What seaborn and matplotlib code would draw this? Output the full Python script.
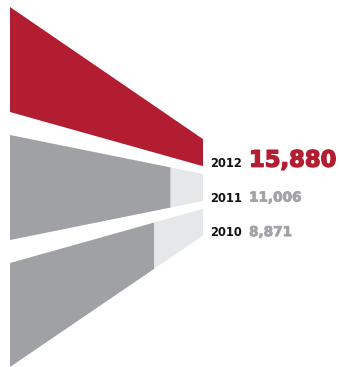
import numpy as np
import matplotlib
matplotlib.use("Agg")
import matplotlib.pyplot as plt
import matplotlib.patheffects as pe
import seaborn as sns

# Data
years = ["2012", "2011", "2010"]
values = [15880, 11006, 8871]
value_labels = ["15,880", "11,006", "8,871"]

sns.set_theme(style="white")
plt.rcParams["font.family"] = ["DejaVu Sans"]

RED = "#B31D32"
DARK = "#A0A1A5"
LIGHT = "#E6E7E9"
BAR_COLORS = [RED, DARK, DARK]
VALUE_COLORS = [RED, "#A3A4A8", "#A3A4A8"]
VALUE_SIZES = [16.3, 9.8, 9.8]
VALUE_STROKES = [1.0, 0.6, 0.6]

fig = plt.figure(figsize=(3.4, 3.67), dpi=100)
ax = fig.add_axes([0, 0, 1, 1])
ax.set_xlim(0, 340)
ax.set_ylim(367, 0)
ax.axis("off")

# Perspective layout: bands recede from the near edge toward a vanishing point
X_NEAR, X_FAR, X_VANISH = 10, 203, 270
# (vanishing y, top offset at near edge, bottom offset at near edge)
bands = [(185, -178, -73), (187.5, -52.5, 52.5), (190, 73, 177)]
vmax = max(values)


def depth_x(v):
    return X_NEAR + (X_FAR - X_NEAR) * np.sqrt(v / vmax)


def edge_y(vy, off, x):
    return vy + off * (X_VANISH - x) / (X_VANISH - X_NEAR)


def slab(x0, x1, vy, top, bot, color):
    xs = [x0, x1, x1, x0]
    ys = [edge_y(vy, top, x0), edge_y(vy, top, x1),
          edge_y(vy, bot, x1), edge_y(vy, bot, x0)]
    ax.fill(xs, ys, color=color, lw=0)


x_full = depth_x(vmax)
for i, (vy, top, bot) in enumerate(bands):
    xv = depth_x(values[i])
    slab(X_NEAR, xv, vy, top, bot, BAR_COLORS[i])
    if xv < x_full:
        slab(xv, x_full, vy, top, bot, LIGHT)
    base = edge_y(vy, bot, x_full) + 0.5
    ax.text(x_full + 7, base, years[i], fontweight="bold",
            fontsize=8.3, color="#111111", va="baseline", ha="left")
    ax.text(x_full + 46, base, value_labels[i], fontweight="bold",
            fontsize=VALUE_SIZES[i], color=VALUE_COLORS[i],
            va="baseline", ha="left",
            path_effects=[pe.withStroke(linewidth=VALUE_STROKES[i],
                                        foreground=VALUE_COLORS[i])])

fig.savefig("out.png", dpi=100)
